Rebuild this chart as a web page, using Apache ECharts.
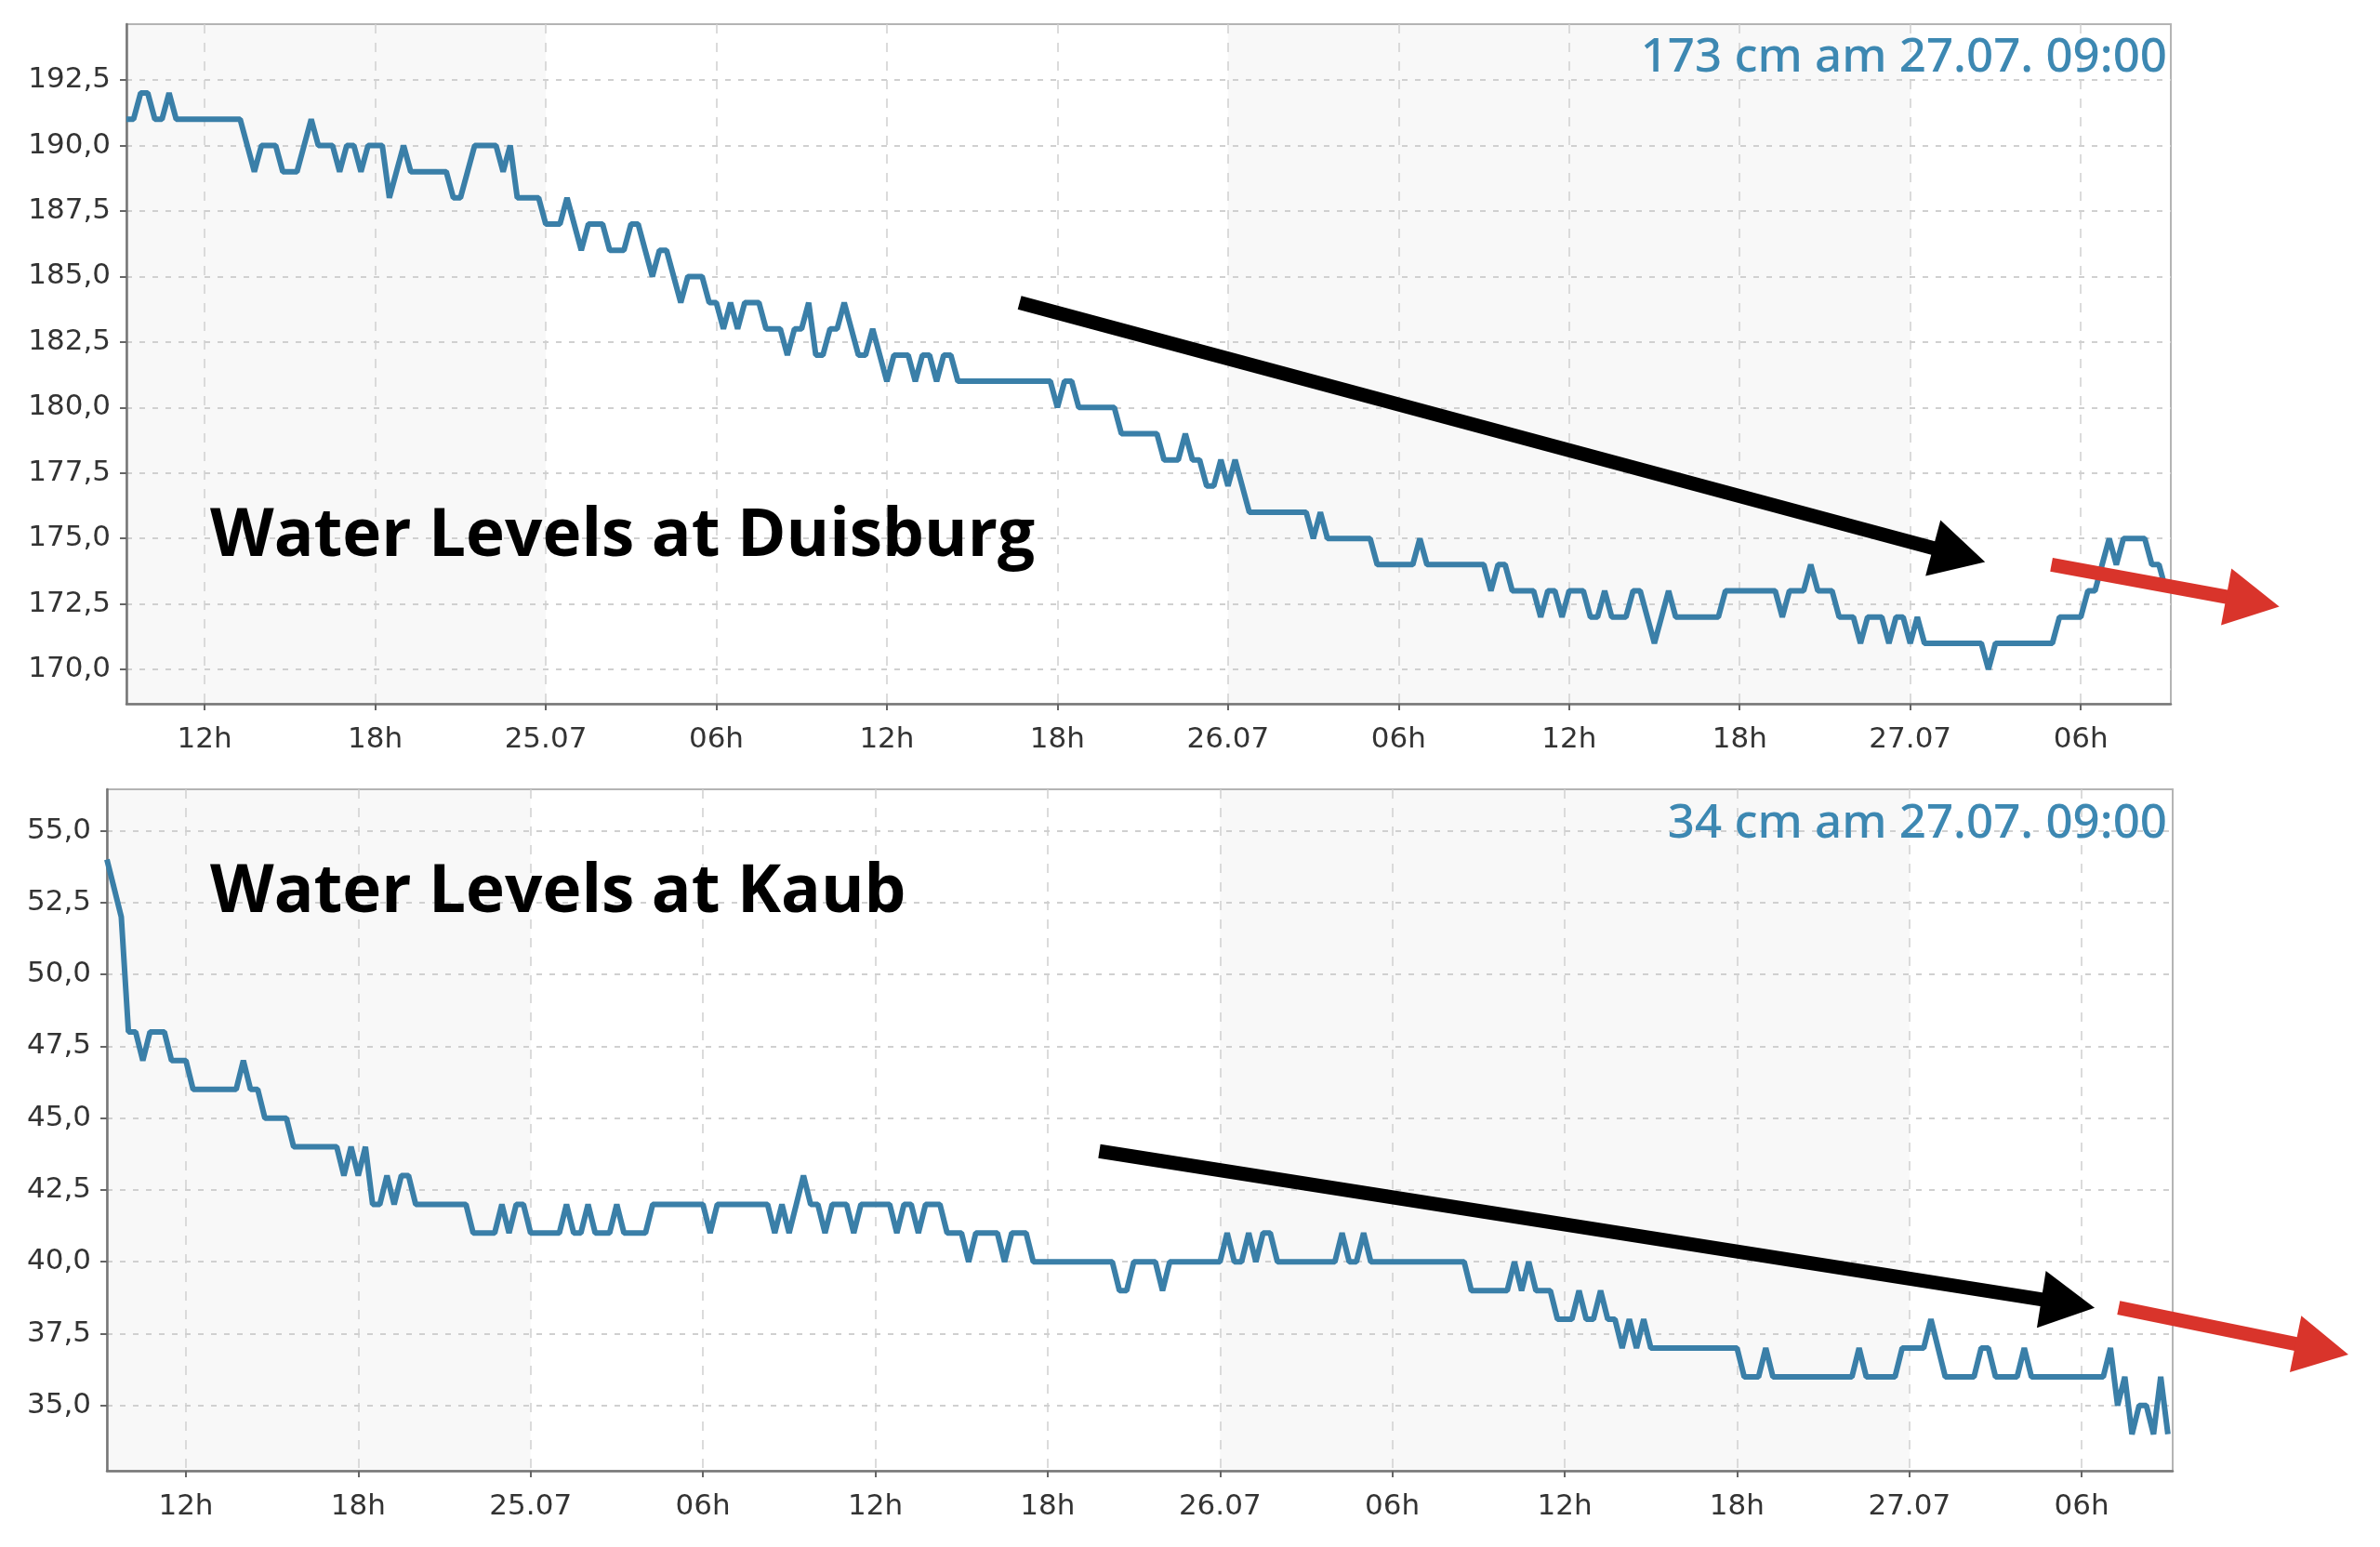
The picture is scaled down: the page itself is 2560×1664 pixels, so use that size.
<!DOCTYPE html>
<html>
<head>
<meta charset="utf-8">
<title>Water Levels Duisburg / Kaub</title>
<script src="https://cdn.jsdelivr.net/npm/echarts@6/dist/echarts.min.js"></script>
<style>
  html, body { margin: 0; padding: 0; background: #fff; }
  #main { width: 2560px; height: 1664px; }
</style>
</head>
<body>
<div id="main"></div>
<script>
// Pegel in cm, 15-Minuten-Werte von 24.07. 09:15 bis 27.07. 09:00
var firstTime = '2025-07-24T09:15';
var lastTime = '2025-07-27T09:10';

var duisburg = [
  191,191,192,192,191,191,192,191,191,191,191,191,
  191,191,191,191,191,190,189,190,190,190,189,189,
  189,190,191,190,190,190,189,190,190,189,190,190,
  190,188,189,190,189,189,189,189,189,189,188,188,
  189,190,190,190,190,189,190,188,188,188,188,187,
  187,187,188,187,186,187,187,187,186,186,186,187,
  187,186,185,186,186,185,184,185,185,185,184,184,
  183,184,183,184,184,184,183,183,183,182,183,183,
  184,182,182,183,183,184,183,182,182,183,182,181,
  182,182,182,181,182,182,181,182,182,181,181,181,
  181,181,181,181,181,181,181,181,181,181,181,180,
  181,181,180,180,180,180,180,180,179,179,179,179,
  179,179,178,178,178,179,178,178,177,177,178,177,
  178,177,176,176,176,176,176,176,176,176,176,175,
  176,175,175,175,175,175,175,175,174,174,174,174,
  174,174,175,174,174,174,174,174,174,174,174,174,
  173,174,174,173,173,173,173,172,173,173,172,173,
  173,173,172,172,173,172,172,172,173,173,172,171,
  172,173,172,172,172,172,172,172,172,173,173,173,
  173,173,173,173,173,172,173,173,173,174,173,173,
  173,172,172,172,171,172,172,172,171,172,172,171,
  172,171,171,171,171,171,171,171,171,171,170,171,
  171,171,171,171,171,171,171,171,172,172,172,172,
  173,173,174,175,174,175,175,175,175,174,174,173
];

var kaub = [
  54,53,52,48,48,47,48,48,48,47,47,47,
  46,46,46,46,46,46,46,47,46,46,45,45,
  45,45,44,44,44,44,44,44,44,43,44,43,
  44,42,42,43,42,43,43,42,42,42,42,42,
  42,42,42,41,41,41,41,42,41,42,42,41,
  41,41,41,41,42,41,41,42,41,41,41,42,
  41,41,41,41,42,42,42,42,42,42,42,42,
  41,42,42,42,42,42,42,42,42,41,42,41,
  42,43,42,42,41,42,42,42,41,42,42,42,
  42,42,41,42,42,41,42,42,42,41,41,41,
  40,41,41,41,41,40,41,41,41,40,40,40,
  40,40,40,40,40,40,40,40,40,39,39,40,
  40,40,40,39,40,40,40,40,40,40,40,40,
  41,40,40,41,40,41,41,40,40,40,40,40,
  40,40,40,40,41,40,40,41,40,40,40,40,
  40,40,40,40,40,40,40,40,40,40,39,39,
  39,39,39,39,40,39,40,39,39,39,38,38,
  38,39,38,38,39,38,38,37,38,37,38,37,
  37,37,37,37,37,37,37,37,37,37,37,37,
  36,36,36,37,36,36,36,36,36,36,36,36,
  36,36,36,36,37,36,36,36,36,36,37,37,
  37,37,38,37,36,36,36,36,36,37,37,36,
  36,36,36,37,36,36,36,36,36,36,36,36,
  36,36,36,37,35,36,34,35,35,34,36,34
];

var duisburgTicks = [170, 172.5, 175, 177.5, 180, 182.5, 185, 187.5, 190, 192.5];
var kaubTicks = [35, 37.5, 40, 42.5, 45, 47.5, 50, 52.5, 55];
var timeTicks = [
  '2025-07-24T12:00', '2025-07-24T18:00', '2025-07-25T00:00', '2025-07-25T06:00',
  '2025-07-25T12:00', '2025-07-25T18:00', '2025-07-26T00:00', '2025-07-26T06:00',
  '2025-07-26T12:00', '2025-07-26T18:00', '2025-07-27T00:00', '2025-07-27T06:00'
];
// Tagesgrenzen fuer die grau/weissen Tagesstreifen
var dayStarts = [firstTime, '2025-07-25T00:00', '2025-07-26T00:00', '2025-07-27T00:00', lastTime];

var latestLabels = ['173 cm am 27.07. 09:00', '34 cm am 27.07. 09:00'];
var chartTitles = ['Water Levels at Duisburg', 'Water Levels at Kaub'];

// Pfeile (Zeit, Pegel) – Anfang und Spitze
var arrows = [
  { series: 0, color: '#000000', from: ['2025-07-25T16:40', 184.0], to: ['2025-07-27T02:38', 174.1] },
  { series: 0, color: '#d9342b', from: ['2025-07-27T04:58', 174.0], to: ['2025-07-27T12:59', 172.4] },
  { series: 1, color: '#000000', from: ['2025-07-25T19:48', 43.85], to: ['2025-07-27T06:27', 38.4] },
  { series: 1, color: '#d9342b', from: ['2025-07-27T07:17', 38.4], to: ['2025-07-27T15:17', 36.77] }
];

function ts(s) { return new Date(s).getTime(); }
function pad(n) { return n < 10 ? '0' + n : '' + n; }

var t0 = ts(firstTime);
function toSeries(values) {
  return values.map(function (v, i) { return [t0 + i * 15 * 60000, v]; });
}

var tickValues = timeTicks.map(ts);
var bandValues = dayStarts.map(ts);

var lineColor = '#3a7fa8';
var labelFont = { fontFamily: 'DejaVu Sans', fontSize: 31, color: '#333' };

function mainX(gridIndex) {
  return {
    type: 'value', gridIndex: gridIndex, position: 'bottom', scale: true,
    min: ts(firstTime), max: ts(lastTime),
    axisLine: { show: true, onZero: false, lineStyle: { color: '#777', width: 2.5 } },
    axisTick: { show: true, length: 7, customValues: tickValues, lineStyle: { color: '#666', width: 2 } },
    axisLabel: Object.assign({
      margin: 23,
      customValues: tickValues,
      formatter: function (val) {
        var d = new Date(val);
        if (d.getHours() === 0) return pad(d.getDate()) + '.' + pad(d.getMonth() + 1);
        return pad(d.getHours()) + 'h';
      }
    }, labelFont),
    splitLine: { show: true, lineStyle: { color: '#cfcfcf', width: 1.5, type: [10, 10] } }
  };
}

function bandX(gridIndex) {
  return {
    type: 'value', gridIndex: gridIndex, position: 'top', z: -1, scale: true,
    min: ts(firstTime), max: ts(lastTime),
    axisLine: { show: false }, axisLabel: { show: false },
    axisTick: { show: false, customValues: bandValues },
    splitLine: { show: false },
    splitArea: { show: true, areaStyle: { color: ['#f8f8f8', 'rgba(255,255,255,0)'] } }
  };
}

function valueY(gridIndex, min, max, ticks) {
  return {
    type: 'value', gridIndex: gridIndex, min: min, max: max,
    axisLine: { show: true, lineStyle: { color: '#777', width: 2.5 } },
    axisTick: { show: true, length: 7, customValues: ticks, lineStyle: { color: '#666', width: 2 } },
    axisLabel: Object.assign({
      margin: 17,
      customValues: ticks,
      formatter: function (v) { return v.toFixed(1).replace('.', ','); }
    }, labelFont),
    splitLine: { show: true, lineStyle: { color: '#d0d0d0', width: 2, type: [6, 8] } }
  };
}

var myChart = echarts.init(document.getElementById('main'));
var option = {
  animation: false,
  backgroundColor: '#fff',
  grid: [
    { left: 136, top: 26, width: 2199, height: 731, show: true, borderColor: '#b4b4b4', borderWidth: 2 },
    { left: 115, top: 849, width: 2222, height: 733, show: true, borderColor: '#b4b4b4', borderWidth: 2 }
  ],
  xAxis: [mainX(0), bandX(0), mainX(1), bandX(1)],
  yAxis: [
    valueY(0, 168.69, 194.63, duisburgTicks),
    valueY(1, 32.73, 56.44, kaubTicks)
  ],
  series: [
    {
      name: 'Duisburg', type: 'line', xAxisIndex: 0, yAxisIndex: 0,
      showSymbol: false, symbol: 'none',
      lineStyle: { color: lineColor, width: 6 },
      data: toSeries(duisburg)
    },
    {
      name: 'Kaub', type: 'line', xAxisIndex: 2, yAxisIndex: 1,
      showSymbol: false, symbol: 'none',
      lineStyle: { color: lineColor, width: 6 },
      data: toSeries(kaub)
    }
  ]
};
myChart.setOption(option, true);

// Beschriftungen und Pfeile
function arrowShapes(p0, p1, color) {
  var width = 15, headLen = 58, headHalf = 31;
  var dx = p1[0] - p0[0], dy = p1[1] - p0[1];
  var len = Math.sqrt(dx * dx + dy * dy);
  var ux = dx / len, uy = dy / len, nx = -uy, ny = ux;
  var bx = p1[0] - ux * headLen, by = p1[1] - uy * headLen;
  return [
    { type: 'line', z: 100, shape: { x1: p0[0], y1: p0[1], x2: bx + ux * 3, y2: by + uy * 3 },
      style: { stroke: color, lineWidth: width } },
    { type: 'polygon', z: 100,
      shape: { points: [[p1[0], p1[1]], [bx + nx * headHalf, by + ny * headHalf], [bx - nx * headHalf, by - ny * headHalf]] },
      style: { fill: color } }
  ];
}

var elements = [];
arrows.forEach(function (a) {
  var p0 = myChart.convertToPixel({ seriesIndex: a.series }, [ts(a.from[0]), a.from[1]]);
  var p1 = myChart.convertToPixel({ seriesIndex: a.series }, [ts(a.to[0]), a.to[1]]);
  elements = elements.concat(arrowShapes(p0, p1, a.color));
});

var labelPos = [[2331, 62], [2331, 886]];
var titlePos = [[226, 578], [226, 961]];
for (var k = 0; k < 2; k++) {
  elements.push({
    type: 'text', z: 100, x: labelPos[k][0], y: labelPos[k][1],
    style: { text: latestLabels[k], align: 'right', verticalAlign: 'middle',
      fontFamily: 'Noto Sans', fontWeight: 500, fontSize: 51, fill: '#3d88b2' }
  });
  elements.push({
    type: 'text', z: 100, x: titlePos[k][0], y: titlePos[k][1],
    style: { text: chartTitles[k], align: 'left', verticalAlign: 'middle',
      fontFamily: 'Open Sans', fontWeight: 'bold', fontSize: 71, fill: '#000' }
  });
}
myChart.setOption({ graphic: { elements: elements } });
</script>
</body>
</html>
